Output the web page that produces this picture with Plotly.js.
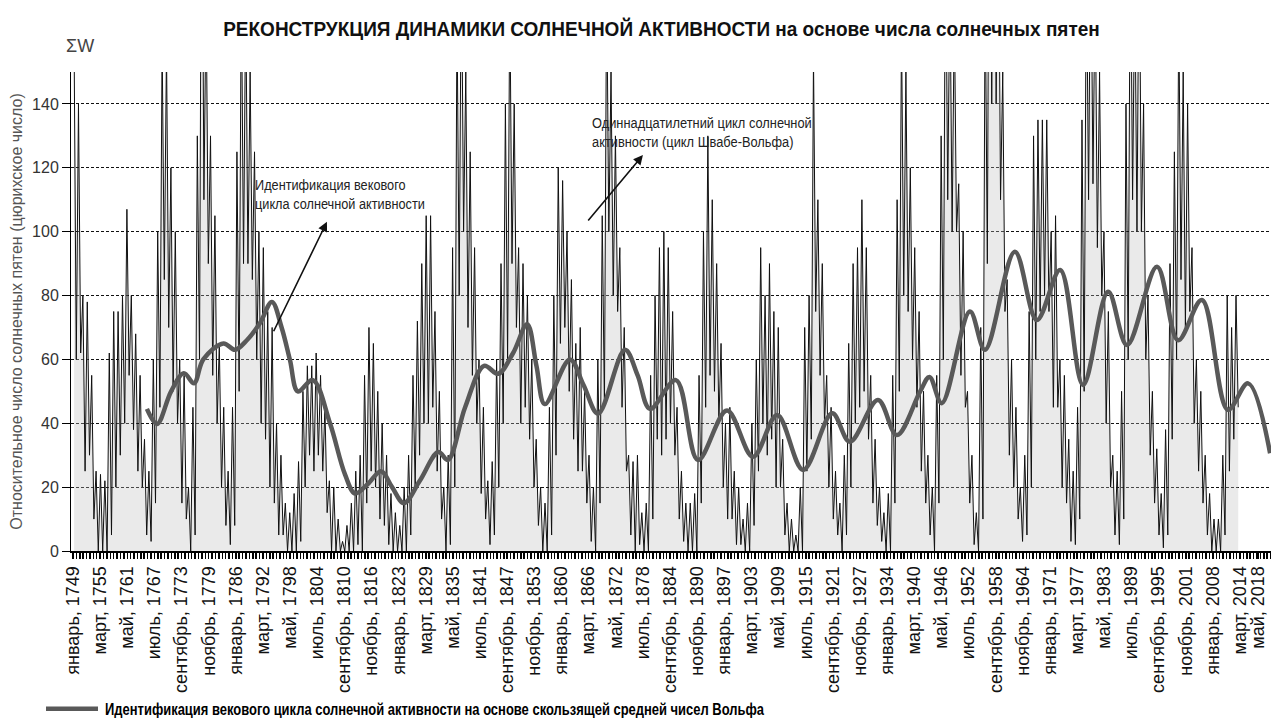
<!DOCTYPE html>
<html><head><meta charset="utf-8">
<script src="https://cdn.plot.ly/plotly-3.0.1.min.js"></script>
<style>html,body{margin:0;padding:0;background:#fff;} #chart{width:1271px;height:724px;}</style>
</head><body><div id="chart"></div>
<script>
// Monthly Wolf numbers condensed per year: highest and lowest monthly value
const startYear = 1749;
const monthlyHigh = [
 160,140,80,78,55,25,24,22,62,75,
 75,80,107,80,68,55,35,25,60,100,
 160,158,120,100,60,55,20,45,130,240,
 175,130,105,65,45,25,45,125,180,175,
 150,125,100,95,75,70,40,30,15,12,
 18,28,50,58,58,62,55,45,22,20,
 10,3,8,15,25,30,55,70,65,50,
 40,30,18,12,8,20,30,55,72,90,
 105,105,75,50,20,30,95,170,190,150,
 125,95,60,45,22,28,60,90,140,175,
 140,95,90,80,60,35,20,15,45,80,
 120,116,100,85,65,70,50,30,20,60,
 105,180,150,130,95,70,30,28,30,12,
 15,55,80,95,100,95,75,45,25,15,
 15,18,55,100,130,110,90,65,40,45,
 25,20,10,15,40,60,95,80,90,75,
 70,35,15,10,5,20,70,80,155,110,
 90,55,45,25,15,30,65,90,95,110,
 95,55,35,20,12,18,55,110,165,150,
 120,95,75,50,30,20,55,130,200,180,
 170,115,100,50,30,12,70,180,255,240,
 210,150,85,60,45,20,30,75,130,135,
 135,135,100,105,60,55,35,25,45,135,
 190,200,180,150,100,75,30,25,50,140,
 200,180,200,140,80,50,32,18,38,90,
 125,170,150,140,95,60,50,30,18,10,
 10,30,80,70,80
];
const monthlyLow = [
 60,62,25,30,10,0,0,0,5,20,
 30,40,55,38,25,20,5,3,15,45,
 85,70,50,40,15,10,0,5,60,110,
 90,55,40,20,8,2,8,50,90,90,
 85,60,40,35,20,15,5,5,0,0,
 0,3,20,30,25,30,25,12,0,0,
 0,0,0,0,2,0,15,25,20,10,
 8,2,0,0,0,0,5,20,30,40,
 40,45,25,10,0,2,20,80,100,70,
 55,40,18,10,2,5,20,40,60,90,
 70,40,45,35,20,8,0,0,5,30,
 65,70,50,35,25,25,15,3,0,15,
 45,100,80,75,45,25,5,0,2,0,
 0,10,35,30,35,40,30,10,3,0,
 0,0,15,45,55,50,40,20,10,10,
 2,2,0,0,8,25,40,30,35,20,
 20,5,0,0,0,0,25,35,75,55,
 40,20,10,5,0,5,20,40,45,50,
 35,15,8,3,0,0,15,50,80,75,
 60,45,25,15,5,0,15,60,110,100,
 100,55,45,15,2,0,10,90,140,140,
 110,75,30,20,10,3,5,20,60,75,
 80,75,45,45,20,15,3,2,10,50,
 110,115,95,80,40,20,5,2,10,60,
 110,100,100,60,30,15,5,1,5,35,
 60,85,70,75,40,25,15,5,0,0,
 0,5,25,35,45
];
// Moving average (secular cycle identification)
const smoothYears  = [1765.8,1768.1,1771.3,1774.2,1776.5,1778.6,1783.2,1785.8,1788.5,1791.5,
                      1794.2,1796.4,1798.3,1800.1,1803.5,1807.4,1810.8,1813.1,1816,1819,
                      1821.5,1824.2,1827.8,1832,1834.2,1838.1,1842.4,1845.6,1849,1852.2,
                      1854.3,1856.2,1861.9,1865,1868.3,1874.4,1877.3,1880.1,1886,1891,
                      1897.6,1903.5,1909,1914.9,1921.5,1925.5,1931.9,1936.2,1941.5,1943.6,
                      1946.4,1952.8,1956.2,1963,1968,1973.3,1978.5,1984.2,1988.5,1995.3,
                      2000.1,2005.5,2011.4,2016,2021];
const smoothValues = [44.5,39.8,50,55.7,52.5,60,65,63,66,71.4,
                      78,70,59.8,50,53.5,40,24,18,21,25,
                      20,15,22,31,28.5,45,58,55.5,62,71,
                      58,46,60,52,43,63,55,44.5,53.5,28.5,
                      44,29.5,42.6,25.4,43.1,34.2,47.3,36.3,50,54.5,
                      46.3,75,63,93.7,72.3,88,52,81.2,64.5,89,
                      66,78.6,44.2,52.5,30.6];
const monthNames = ['январь','февраль','март','апрель','май','июнь','июль','август','сентябрь','октябрь','ноябрь','декабрь'];
const tickLabels = ['январь, 1749','март, 1755','май, 1761','июль, 1767','сентябрь, 1773','ноябрь, 1779',
 'январь, 1786','март, 1792','май, 1798','июль, 1804','сентябрь, 1810','ноябрь, 1816',
 'январь, 1823','март, 1829','май, 1835','июль, 1841','сентябрь, 1847','ноябрь, 1853',
 'январь, 1860','март, 1866','май, 1872','июль, 1878','сентябрь, 1884','ноябрь, 1890',
 'январь, 1897','март, 1903','май, 1909','июль, 1915','сентябрь, 1921','ноябрь, 1927',
 'январь, 1934','март, 1940','май, 1946','июль, 1952','сентябрь, 1958','ноябрь, 1964',
 'январь, 1971','март, 1977','май, 1983','июль, 1989','сентябрь, 1995','ноябрь, 2001',
 'январь, 2008','март, 2014','май, 2018'];
const yTicks = [0,20,40,60,80,100,120,140];

const xs = [], ys = [];
for (let i = 0; i < monthlyHigh.length; i++) {
  xs.push(startYear + i + 0.25); ys.push(monthlyHigh[i]);
  xs.push(startYear + i + 0.75); ys.push(monthlyLow[i]);
}
const tickVals = tickLabels.map(l => { const p = l.split(', '); return +p[1] + monthNames.indexOf(p[0]) / 12; });

const SANS = "'Liberation Sans',Arial,sans-serif";

const traces = [
  {x: xs, y: ys, type: 'scatter', mode: 'lines', fill: 'tozeroy',
   fillcolor: 'rgba(190,190,190,0.32)', line: {color: '#111', width: 1},
   showlegend: false, hoverinfo: 'skip'},
  {x: smoothYears, y: smoothValues, type: 'scatter', mode: 'lines',
   line: {color: '#595959', width: 4.5, shape: 'spline', smoothing: 1},
   name: '<b>Идентификация векового цикла солнечной активности на основе скользящей средней чисел Вольфа</b>',
   showlegend: true}
];

const layout = {
  width: 1271, height: 724,
  margin: {l: 71, r: 0, t: 72, b: 173, autoexpand: false},
  paper_bgcolor: '#fff', plot_bgcolor: '#fff',
  title: {text: '<b>РЕКОНСТРУКЦИЯ ДИНАМИКИ СОЛНЕЧНОЙ АКТИВНОСТИ на основе числа солнечных пятен</b>',
          font: {family: SANS, size: 21, color: '#111'},
          x: 0.523, xref: 'container', xanchor: 'center', y: 0.961, yref: 'container', yanchor: 'middle'},
  xaxis: {range: [1748.55, 2021.2], tickmode: 'array', tickvals: tickVals, ticktext: tickLabels,
          tickangle: -90, ticks: 'outside', ticklen: 6, tickwidth: 1.5, tickcolor: '#000',
          showgrid: false, zeroline: false, showline: true, linecolor: '#000', linewidth: 2,
          automargin: false,
          tickfont: {family: SANS, size: 18, color: '#111'},
          minor: {tickmode: 'linear', tick0: 1749, dtick: 74 / 12 / 8, ticks: 'outside', ticklen: 6,
                  tickwidth: 1.5, tickcolor: '#000', showgrid: false}},
  yaxis: {range: [0, 150], tickmode: 'array', tickvals: yTicks, ticks: 'outside', ticklen: 8,
          tickcolor: '#000', showgrid: true, gridcolor: '#111', griddash: '3px,2px', gridwidth: 1,
          showline: true, linecolor: '#000', linewidth: 1, zeroline: false, automargin: false,
          tickfont: {family: SANS, size: 16, color: '#333'},
          title: {text: 'Относительное число солнечных пятен (цюрихское число)',
                  font: {family: SANS, size: 16, color: '#555'}, standoff: 5}},
  showlegend: true,
  legend: {x: -0.025, y: -0.294, xanchor: 'left', yanchor: 'top', bgcolor: 'rgba(0,0,0,0)',
           itemwidth: 52, font: {family: SANS, size: 16, color: '#000'}},
  annotations: [
    {text: 'ΣW', xref: 'paper', yref: 'paper', x: 0.0075, y: 1.055, xanchor: 'center', yanchor: 'middle',
     showarrow: false, font: {family: SANS, size: 18, color: '#444'}},
    {text: 'Идентификация векового<br>цикла солнечной активности', xref: 'x', yref: 'y',
     x: 1790.35, y: 111.5, xanchor: 'left', yanchor: 'middle', align: 'left', showarrow: false,
     font: {family: SANS, size: 15, color: '#222'}},
    {text: 'Одиннадцатилетний цикл солнечной<br>активности (цикл Швабе-Вольфа)', xref: 'x', yref: 'y',
     x: 1866.9, y: 131.2, xanchor: 'left', yanchor: 'middle', align: 'left', showarrow: false,
     font: {family: SANS, size: 15, color: '#222'}},
    {text: '', xref: 'x', yref: 'y', x: 1806.7, y: 103.1, ax: -54, ay: 111, showarrow: true,
     arrowhead: 2, arrowsize: 1.2, arrowwidth: 1.6, arrowcolor: '#111'},
    {text: '', xref: 'x', yref: 'y', x: 1878.5, y: 124.0, ax: -56, ay: 67, showarrow: true,
     arrowhead: 2, arrowsize: 1.2, arrowwidth: 1.6, arrowcolor: '#111'}
  ]
};

// Condense a text element horizontally (emulates the narrow typeface of the original)
function condense(el, newLeft, width) {
  if (!el) return;
  const r = el.getBoundingClientRect();
  if (!r.width) return;
  const s = width / r.width;
  const pm = el.parentNode.getScreenCTM();
  const t = el.getAttribute('transform') || '';
  el.setAttribute('transform',
    `translate(${newLeft - pm.e},0) scale(${s},1) translate(${-(r.left - pm.e)},0) ${t}`);
}

Plotly.newPlot('chart', traces, layout, {displayModeBar: false, staticPlot: true}).then(() => {
  condense(document.querySelector('.gtitle'), 223, 877);
  condense(document.querySelector('.legendtext'), 105, 660);
  condense(document.querySelector('.annotation[data-index="1"] .annotation-text'), 255, 170);
  condense(document.querySelector('.annotation[data-index="2"] .annotation-text'), 592, 220);
});
</script>
</body></html>
